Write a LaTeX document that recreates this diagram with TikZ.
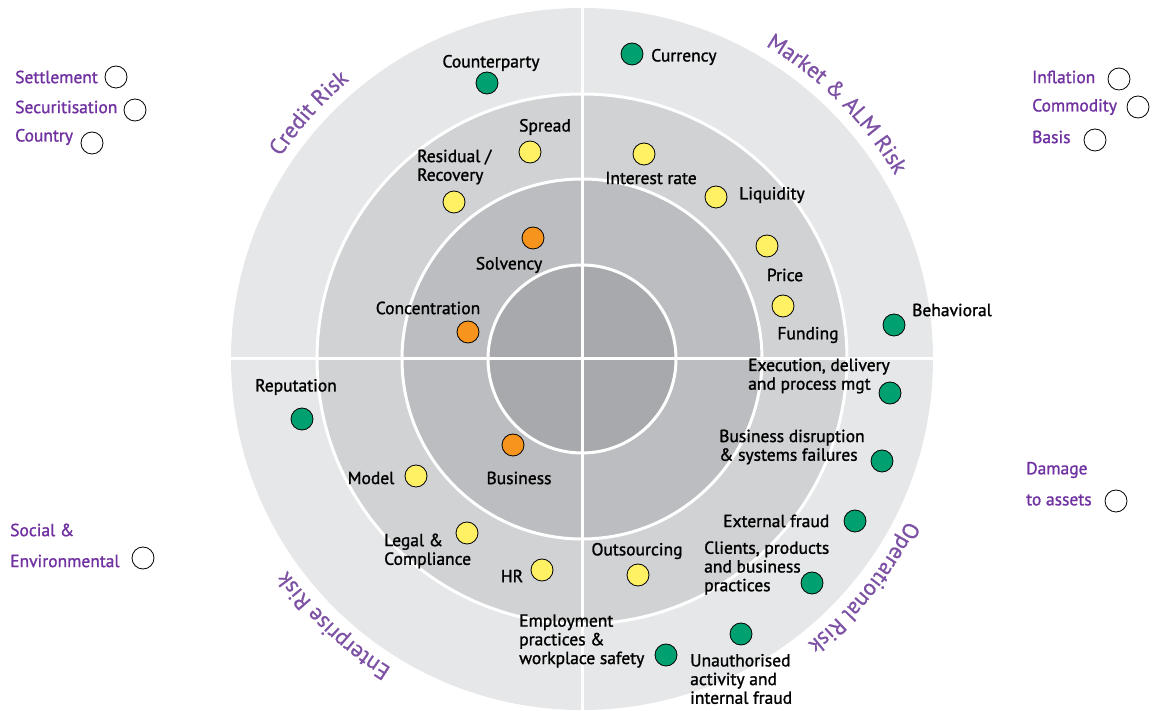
\documentclass[tikz,border=0pt]{standalone}
\usepackage{fontspec}
\setmainfont{PT Sans}
\newfontfamily\lblfont[FakeBold=1.3]{PT Sans}
\newfontfamily\catfamily[FakeBold=0.8]{PT Sans}
\usetikzlibrary{decorations.text}
\definecolor{ringA}{HTML}{E6E7E8}
\definecolor{ringB}{HTML}{D1D2D4}
\definecolor{ringC}{HTML}{BCBDC0}
\definecolor{ringD}{HTML}{A7A9AC}
\definecolor{dgreen}{RGB}{0,160,112}
\definecolor{dyellow}{RGB}{255,240,100}
\definecolor{dorange}{RGB}{247,148,30}
\definecolor{catpurple}{RGB}{125,82,165}
\definecolor{sidepurple}{RGB}{112,50,160}
\newcommand{\catfnt}{\catfamily\fontsize{22.5}{22.5}\selectfont\color{catpurple}}
\begin{document}
\begin{tikzpicture}[x=1pt,y=1pt,
  lbl/.style={font=\lblfont\fontsize{17.5}{18.7}\selectfont, inner sep=0pt, align=left, text=black},
  side/.style={font=\lblfont\fontsize{17.5}{18.7}\selectfont, inner sep=0pt, anchor=west, text=sidepurple},
  dotbase/.style={circle, draw=black, line width=0.8pt, inner sep=0pt, minimum size=22pt},
  gdot/.style={dotbase, fill=dgreen},
  ydot/.style={dotbase, fill=dyellow},
  odot/.style={dotbase, fill=dorange},
  edot/.style={dotbase, fill=white},
  sep/.style={white, line width=3pt},
  cat/.style={decorate, decoration={text along path, text align=center, text={#1}}}
]
\useasboundingbox (0,0) rectangle (1160,710);
\coordinate (C) at (582,351);
\coordinate (T) at (582,0);
\coordinate (B) at (582,702);
\coordinate (L) at (231,351);
\coordinate (R) at (933,351);
% rings
\fill[ringA] (C) circle[radius=351pt];
\fill[ringB] (C) circle[radius=265pt];
\fill[ringC] (C) circle[radius=180pt];
\fill[ringD] (C) circle[radius=94pt];
\draw[sep] (C) circle[radius=265pt] (C) circle[radius=180pt] (C) circle[radius=94pt];
\draw[sep] (T) -- (B);
\draw[sep] (L) -- (R);
% category labels
\path[cat={|\catfnt|Credit Risk}] ([shift={(166:363)}]C) arc[start angle=166, end angle=110, radius=363pt];
\path[cat={|\catfnt|Market {\&} ALM Risk}] ([shift={(78:363)}]C) arc[start angle=78, end angle=12, radius=363pt];
\path[cat={|\catfnt|Operational Risk}] ([shift={(-8:363)}]C) arc[start angle=-8, end angle=-70, radius=363pt];
\path[cat={|\catfnt|Enterprise Risk}] ([shift={(-103:363)}]C) arc[start angle=-103, end angle=-163, radius=363pt];
% Credit risk
\node[gdot] (dCounter) at (487,627) {};
\node[lbl] (tCounter) at (491,647) {Counterparty};
\node[ydot] (dSpread) at (530,558) {};
\node[lbl] (tSpread) at (545,583) {Spread};
\node[ydot] (dResid) at (454,508) {};
\node[lbl, anchor=west] (tResid) at (417,543) {Residual /\\Recovery};
\node[odot] (dSolv) at (533,472) {};
\node[lbl] (tSolv) at (509,445) {Solvency};
\node[odot] (dConc) at (468,378) {};
\node[lbl] (tConc) at (428,402) {Concentration};
% Market
\node[gdot] (dCurr) at (632,656) {};
\node[lbl, anchor=west] (tCurr) at (651,653) {Currency};
\node[ydot] (dIR) at (644,556) {};
\node[lbl] (tIR) at (651,532) {Interest rate};
\node[ydot] (dLiq) at (716,513) {};
\node[lbl, anchor=west] (tLiq) at (739,515) {Liquidity};
\node[ydot] (dPrice) at (767,464) {};
\node[lbl] (tPrice) at (785,435) {Price};
\node[ydot] (dFund) at (783,404) {};
\node[lbl] (tFund) at (808,375) {Funding};
\node[gdot] (dBeh) at (894,385) {};
\node[lbl, anchor=west] (tBeh) at (912,400) {Behavioral};
% Operational
\node[gdot] (dExec) at (890,317) {};
\node[lbl, anchor=west] (tExec) at (748,334) {Execution, delivery\\and process mgt};
\node[gdot] (dDisr) at (882,249) {};
\node[lbl, anchor=west] (tDisr) at (719,263) {Business disruption\\\& systems failures};
\node[gdot] (dExt) at (855,189) {};
\node[lbl, anchor=west] (tExt) at (723,189) {External fraud};
\node[gdot] (dCli) at (812,127) {};
\node[lbl, anchor=west] (tCli) at (704,142) {Clients, products\\and business\\practices};
\node[ydot] (dOut) at (638,135) {};
\node[lbl] (tOut) at (637,159) {Outsourcing};
\node[gdot] (dUna) at (741,76) {};
\node[lbl, anchor=west] (tUna) at (690,31) {Unauthorised\\activity and\\internal fraud};
\node[gdot] (dEmp) at (666,55) {};
\node[lbl, anchor=west] (tEmp) at (519,69) {Employment\\practices \&\\workplace safety};
% Enterprise
\node[gdot] (dRep) at (302,291) {};
\node[lbl] (tRep) at (296,323) {Reputation};
\node[ydot] (dModel) at (416,234) {};
\node[lbl] (tModel) at (371,232) {Model};
\node[odot] (dBus) at (513,265) {};
\node[lbl] (tBus) at (519,232) {Business};
\node[ydot] (dLegal) at (467,177) {};
\node[lbl, anchor=west] (tLegal) at (384,159) {Legal \&\\Compliance};
\node[ydot] (dHR) at (542,140) {};
\node[lbl] (tHR) at (512,134) {HR};
% outside items
\node[side] (tSett) at (15,633) {Settlement};
\node[edot] (dSett) at (116,633) {};
\node[side] (tSec) at (15,603) {Securitisation};
\node[edot] (dSec) at (135,600) {};
\node[side] (tCountry) at (15,573) {Country};
\node[edot] (dCountry) at (92,567) {};
\node[side] (tInfl) at (1032,633) {Inflation};
\node[edot] (dInfl) at (1119,631) {};
\node[side] (tComm) at (1032,603) {Commodity};
\node[edot] (dComm) at (1138,603) {};
\node[side] (tBasis) at (1032,573) {Basis};
\node[edot] (dBasis) at (1095,570) {};
\node[side] (tSoc1) at (10,180) {Social \&};
\node[side] (tSoc2) at (10,149) {Environmental};
\node[edot] (dSoc) at (143,152) {};
\node[side] (tDam1) at (1026,240) {Damage};
\node[side] (tDam2) at (1026,210) {to assets};
\node[edot] (dDam) at (1116,209) {};
\end{tikzpicture}
\end{document}
